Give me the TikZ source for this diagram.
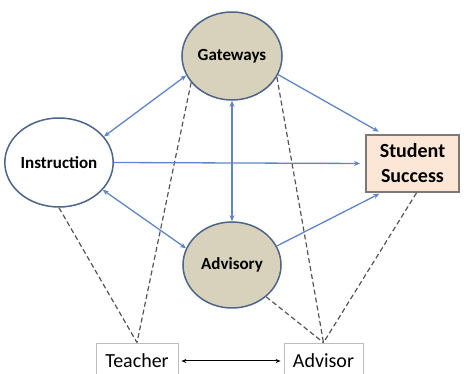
\documentclass[tikz,border=0pt]{standalone}
\usepackage{fontspec}
\setmainfont{Carlito}
\usetikzlibrary{shapes.geometric,arrows.meta,calc}
\definecolor{ellfill}{HTML}{D8D2BC}
\definecolor{ellline}{HTML}{4D6586}
\definecolor{arrblue}{HTML}{5F86C2}
\definecolor{ssfill}{HTML}{FCE6D6}
\definecolor{ssline}{HTML}{7A7A7A}
\definecolor{boxline}{HTML}{BDBDBD}
\definecolor{dashc}{HTML}{555555}
\tikzset{
  ell/.style={ellipse, draw=ellline, line width=1.5pt, inner sep=0pt, font=\fontsize{17}{19}\selectfont\bfseries},
  ssbox/.style={rectangle, draw=ssline, fill=ssfill, line width=1.8pt, inner sep=0pt, align=center, font=\fontsize{20}{25}\selectfont\bfseries},
  rolebox/.style={rectangle, draw=boxline, line width=0.8pt, inner sep=0pt, font=\fontsize{20}{22}\selectfont},
  bl/.style={draw=arrblue, line width=1.3pt},
  tipb/.style={-{Stealth[length=6pt,width=5pt]}},
  tipbb/.style={{Stealth[length=6pt,width=5pt]}-{Stealth[length=6pt,width=5pt]}},
  dl/.style={draw=dashc, line width=1.2pt, dash pattern=on 5pt off 3pt},
}
\begin{document}
\begin{tikzpicture}[x=1pt,y=-1pt]
\useasboundingbox (0,0) rectangle (464,374);
\node[ell, fill=ellfill, minimum width=100pt, minimum height=88pt] (gate) at (232,56) {Gateways};
\node[ell, fill=white, minimum width=102pt, minimum height=89pt] (instr) at (59,162.5) {Instruction};
\node[ell, fill=ellfill, minimum width=98pt, minimum height=86pt] (adv) at (232,265) {Advisory};
\node[ssbox, minimum width=93pt, minimum height=57pt] (ss) at (412.5,163.5) {Student\\Success};
\node[rolebox, minimum width=82pt, minimum height=36pt] (teacher) at (137,361) {Teacher};
\node[rolebox, minimum width=79pt, minimum height=36pt] (advisor) at (323.5,361) {Advisor};
% dashed
\draw[dl] (instr.south) -- (teacher.north);
\draw[dl] (gate.213) -- (teacher.north);
\draw[dl] (gate.-25) -- (advisor.north);
\draw[dl] (adv.-43) -- (advisor.north);
\draw[dl] ([xshift=4pt]ss.south) -- (advisor.north);
% blue
\draw[bl, tipbb] (instr.30) -- (gate.203);
\draw[bl, tipbb] (gate.south) -- (adv.north);
\draw[bl, tipbb] (instr.-32) -- (adv.160);
\draw[bl, tipb, shorten >=5pt] (instr.east) -- (ss.west);
\draw[bl, tipb, shorten >=5pt] (gate.-22) -- ([xshift=18pt]ss.north west);
\draw[bl, tipb, shorten >=2pt] (adv.23) -- ([xshift=16pt]ss.south west);
% teacher-advisor
\draw[line width=1pt, {Stealth[length=5pt,width=4pt]}-{Stealth[length=5pt,width=4pt]}, shorten <=3pt, shorten >=3pt] (teacher.east) -- (advisor.west);
\end{tikzpicture}
\end{document}
